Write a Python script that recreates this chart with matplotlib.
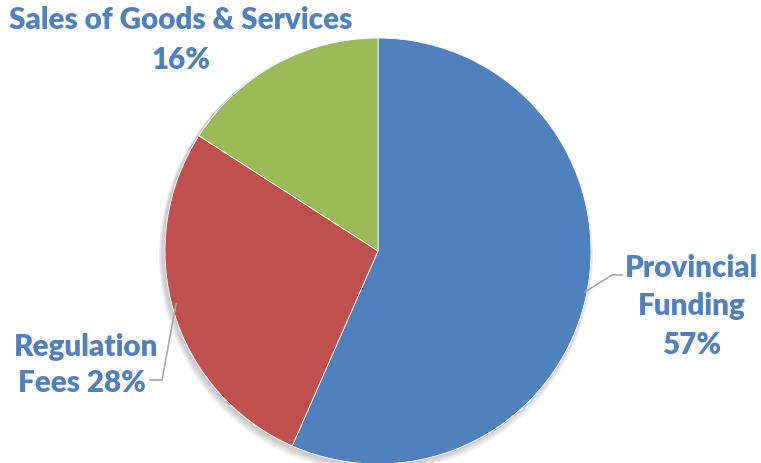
import matplotlib
matplotlib.use("Agg")
import matplotlib.pyplot as plt
from matplotlib.patches import Circle

categories = ["Provincial Funding", "Regulation Fees", "Sales of Goods & Services"]
values = [56.6, 27.5, 15.9]
pct_labels = ["57%", "28%", "16%"]
colors = ["#4F81BD", "#C0504D", "#9BBB59"]

W, H = 761, 464
fig = plt.figure(figsize=(W / 100, H / 100), dpi=100)
ax = fig.add_axes([0, 0, 1, 1])
ax.set_xlim(0, W)
ax.set_ylim(0, H)
ax.set_aspect("equal")
ax.axis("off")

cx, cy, r = 378, H - 252, 213

# soft shadow
for i, a in enumerate([0.05, 0.05, 0.05, 0.05]):
    ax.add_patch(Circle((cx - 2, cy - 2 - i), r + 1 + i, color="black", alpha=a, lw=0, zorder=0))

ax.pie(values, colors=colors, startangle=90, counterclock=False,
       center=(cx, cy), radius=r, frame=True,
       wedgeprops=dict(linewidth=0.6, edgecolor="white"))
ax.set_xlim(0, W)
ax.set_ylim(0, H)
ax.axis("off")

tc = "#4F81BD"
fp = dict(family=["Lato", "DejaVu Sans"], fontsize=21.3, fontweight="heavy", color=tc,
          ha="center", va="center")

def Y(py):
    return H - py

ax.text(181, Y(20), categories[2], **fp)
ax.text(181, Y(60), pct_labels[2], **fp)

ax.text(692, Y(268), "Provincial", **fp)
ax.text(692, Y(306), "Funding", **fp)
ax.text(692, Y(345), pct_labels[0], **fp)

ax.text(86, Y(347), "Regulation", **fp)
ax.text(82, Y(383), "Fees " + pct_labels[1], **fp)

lc = "#A6A6A6"
ax.plot([585, 612, 622], [Y(293), Y(276), Y(276)], color=lc, lw=1.2, zorder=5)
ax.plot([150, 162, 176], [Y(381), Y(381), Y(305)], color=lc, lw=1.2, zorder=5)

fig.savefig("out.png", dpi=100)
